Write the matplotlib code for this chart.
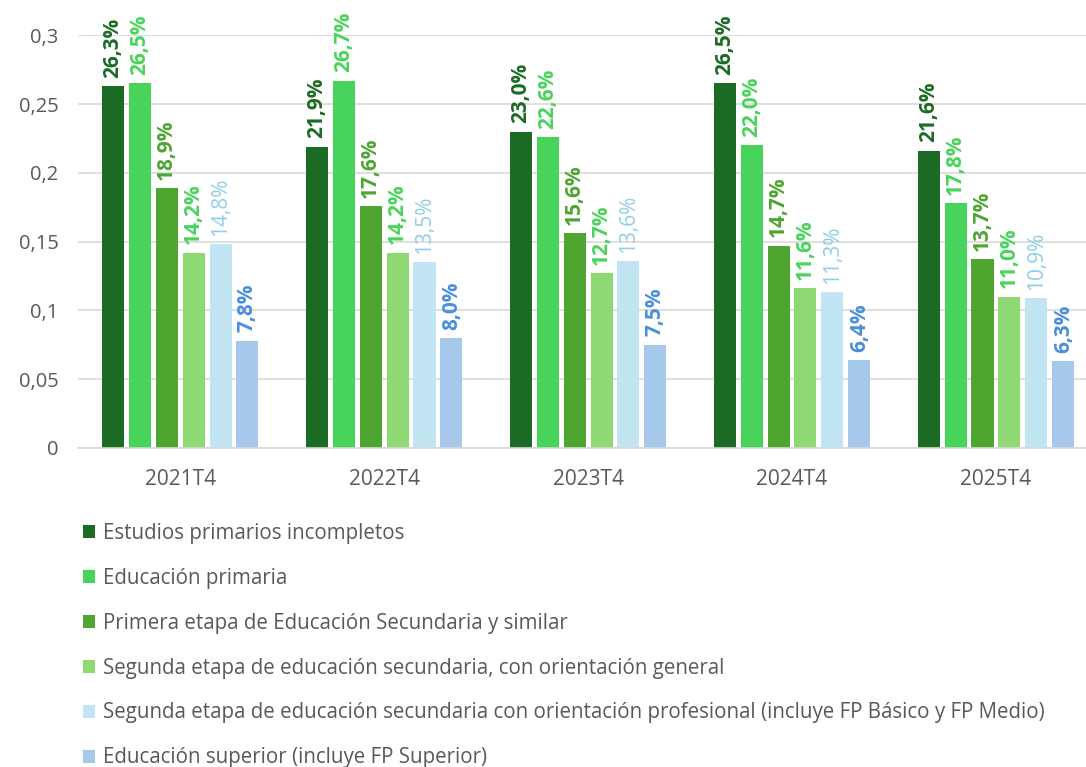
import numpy as np
import matplotlib
matplotlib.use('Agg')
import matplotlib.pyplot as plt
from matplotlib.patches import Patch

plt.rcParams['font.family'] = ['Open Sans', 'DejaVu Sans']

# Donnees du graphique
trimestres = ['2021T4', '2022T4', '2023T4', '2024T4', '2025T4']
series = [
    'Estudios primarios incompletos',
    'Educación primaria',
    'Primera etapa de Educación Secundaria y similar',
    'Segunda etapa de educación secundaria, con orientación general',
    'Segunda etapa de educación secundaria con orientación profesional (incluye FP Básico y FP Medio)',
    'Educación superior (incluye FP Superior)',
]
primarios_incompletos = [0.263, 0.219, 0.230, 0.265, 0.216]
primaria = [0.265, 0.267, 0.226, 0.220, 0.178]
secundaria_1 = [0.189, 0.176, 0.156, 0.147, 0.137]
secundaria_2_general = [0.142, 0.142, 0.127, 0.116, 0.110]
secundaria_2_profesional = [0.148, 0.135, 0.136, 0.113, 0.109]
superior = [0.078, 0.080, 0.075, 0.064, 0.063]
valeurs = [primarios_incompletos, primaria, secundaria_1,
           secundaria_2_general, secundaria_2_profesional, superior]

couleurs_barres = ['#1B6B24', '#48D45A', '#4EA530', '#8FD975', '#C2E5F4', '#A6C8EA']
couleurs_etiq = ['#1B6B24', '#48D45A', '#4EA530', '#48D45A', '#8FCDEB', '#4A8FDB']
graisse_etiq = ['bold', 'bold', 'bold', 'bold', 'normal', 'bold']

gris = '#595959'

fig = plt.figure(figsize=(10.86, 7.67), dpi=100)
ax = fig.add_axes([0.072, 0.416, 0.939, 0.538])

x = np.arange(len(trimestres))
pas = 0.132
largeur = 0.108

for k in range(len(series)):
    pos = x + (k - 2.5) * pas
    ax.bar(pos, valeurs[k], width=largeur, color=couleurs_barres[k], zorder=2)
    for xi, v in zip(pos, valeurs[k]):
        txt = f'{v * 100:.1f}%'.replace('.', ',')
        ax.annotate(txt, (xi, v), xytext=(0, 6), textcoords='offset points',
                    rotation=90, ha='center', va='bottom', fontsize=15,
                    color=couleurs_etiq[k], fontweight=graisse_etiq[k],
                    annotation_clip=False)

ax.set_xlim(-0.5, 4.5)
ax.set_ylim(0, 0.3)
ax.set_yticks([0, 0.05, 0.1, 0.15, 0.2, 0.25, 0.3])
ax.set_yticklabels(['0', '0,05', '0,1', '0,15', '0,2', '0,25', '0,3'])
ax.set_xticks(x)
ax.set_xticklabels(trimestres)
ax.tick_params(axis='both', length=0, labelsize=14.5, colors=gris)
ax.tick_params(axis='x', pad=15, labelsize=15)
ax.tick_params(axis='y', pad=14)
ax.yaxis.grid(True, color='#D9D9D9', linewidth=1.2, zorder=0)
for s in ['top', 'right', 'left']:
    ax.spines[s].set_visible(False)
ax.spines['bottom'].set_color('#D9D9D9')
ax.spines['bottom'].set_linewidth(1.2)

poignees = [Patch(facecolor=c) for c in couleurs_barres]
fig.legend(poignees, series, loc='upper left', bbox_to_anchor=(0.076, 0.318),
           frameon=False, fontsize=14.8, labelcolor=gris, handlelength=0.6,
           handleheight=0.6, handletextpad=0.4, labelspacing=1.16,
           borderaxespad=0, borderpad=0)

fig.savefig('out.png', dpi=100)
